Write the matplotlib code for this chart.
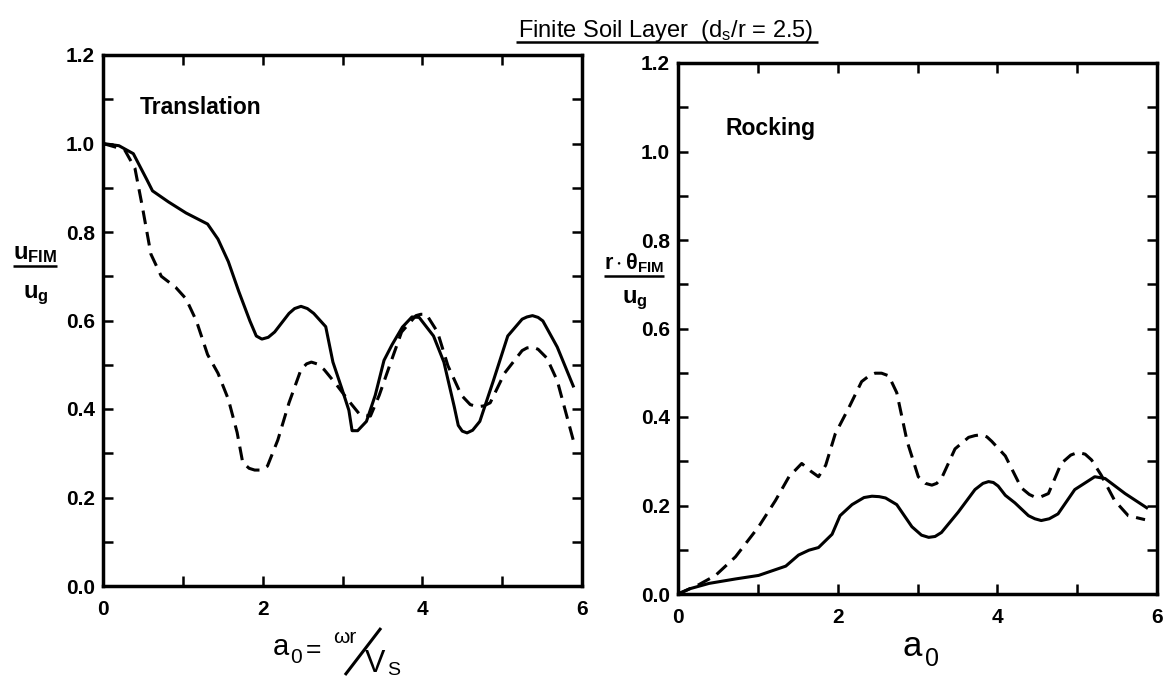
import matplotlib
matplotlib.use('Agg')
import matplotlib.pyplot as plt
from matplotlib.lines import Line2D
from matplotlib.ticker import MultipleLocator

# ---------------- data ----------------
trans_solid_a0 = [0.00, 0.20, 0.38, 0.55, 0.62, 0.82, 1.04, 1.31, 1.44, 1.57, 1.70, 1.84, 1.92,
                  1.99, 2.07, 2.15, 2.33, 2.40, 2.48, 2.56, 2.64, 2.79, 2.88, 2.99, 3.08, 3.12,
                  3.19, 3.30, 3.41, 3.52, 3.62, 3.75, 3.87, 3.96, 4.14, 4.27, 4.40, 4.45, 4.50,
                  4.56, 4.63, 4.72, 4.89, 5.07, 5.25, 5.31, 5.38, 5.45, 5.51, 5.69, 5.89]
trans_solid = [1.00, 0.995, 0.977, 0.918, 0.893, 0.868, 0.843, 0.818, 0.784, 0.733, 0.666, 0.599,
               0.565, 0.558, 0.562, 0.574, 0.616, 0.627, 0.632, 0.627, 0.616, 0.586, 0.506, 0.447,
               0.397, 0.351, 0.351, 0.372, 0.431, 0.510, 0.545, 0.585, 0.608, 0.607, 0.565, 0.506,
               0.405, 0.363, 0.350, 0.346, 0.352, 0.372, 0.464, 0.565, 0.603, 0.608, 0.611, 0.607,
               0.599, 0.540, 0.452]

trans_dash_a0 = [0.00, 0.27, 0.40, 0.49, 0.60, 0.73, 0.91, 1.04, 1.17, 1.31, 1.44, 1.57, 1.68,
                 1.75, 1.83, 1.90, 1.98, 2.06, 2.19, 2.33, 2.48, 2.55, 2.61, 2.68, 2.77, 2.92,
                 3.08, 3.21, 3.35, 3.46, 3.59, 3.74, 3.92, 3.98, 4.05, 4.19, 4.32, 4.49, 4.60,
                 4.69, 4.77, 4.85, 5.03, 5.25, 5.31, 5.38, 5.45, 5.56, 5.69, 5.89]
trans_dash = [1.00, 0.986, 0.944, 0.860, 0.750, 0.700, 0.675, 0.649, 0.599, 0.523, 0.481, 0.422,
              0.347, 0.279, 0.266, 0.262, 0.262, 0.271, 0.330, 0.414, 0.489, 0.502, 0.506, 0.502,
              0.489, 0.456, 0.418, 0.389, 0.384, 0.431, 0.498, 0.574, 0.611, 0.614, 0.614, 0.574,
              0.498, 0.431, 0.410, 0.405, 0.407, 0.414, 0.481, 0.532, 0.538, 0.540, 0.535, 0.515,
              0.464, 0.330]

rock_solid_a0 = [0.00, 0.15, 0.39, 0.72, 1.01, 1.35, 1.51, 1.64, 1.76, 1.93, 2.03, 2.18, 2.33,
                 2.43, 2.52, 2.60, 2.74, 2.93, 3.05, 3.14, 3.22, 3.30, 3.51, 3.72, 3.82, 3.89,
                 3.95, 4.01, 4.10, 4.22, 4.39, 4.47, 4.55, 4.65, 4.76, 4.97, 5.22, 5.35, 5.60,
                 5.87]
rock_solid = [0.0, 0.012, 0.024, 0.034, 0.042, 0.063, 0.088, 0.099, 0.105, 0.135, 0.177, 0.202,
              0.218, 0.221, 0.220, 0.217, 0.202, 0.152, 0.133, 0.128, 0.130, 0.139, 0.185, 0.236,
              0.250, 0.254, 0.252, 0.244, 0.223, 0.206, 0.177, 0.170, 0.166, 0.170, 0.181, 0.236,
              0.265, 0.261, 0.227, 0.195]

rock_dash_a0 = [0.00, 0.26, 0.47, 0.72, 1.01, 1.22, 1.39, 1.55, 1.66, 1.76, 1.85, 1.97, 2.14,
                2.30, 2.40, 2.47, 2.55, 2.64, 2.74, 2.87, 3.01, 3.10, 3.18, 3.24, 3.30, 3.47,
                3.64, 3.72, 3.80, 3.87, 3.93, 4.10, 4.30, 4.40, 4.47, 4.55, 4.64, 4.80, 4.92,
                5.01, 5.10, 5.18, 5.30, 5.47, 5.64, 5.85]
rock_dash = [0.0, 0.021, 0.042, 0.084, 0.152, 0.211, 0.265, 0.295, 0.278, 0.265, 0.291, 0.362,
             0.421, 0.480, 0.494, 0.499, 0.499, 0.493, 0.455, 0.345, 0.265, 0.250, 0.246, 0.250,
             0.261, 0.328, 0.354, 0.358, 0.360, 0.355, 0.345, 0.312, 0.240, 0.225, 0.219, 0.220,
             0.227, 0.295, 0.314, 0.320, 0.316, 0.303, 0.269, 0.211, 0.177, 0.168]

x_ticks = [0, 2, 4, 6]
x_tick_labels = ['0', '2', '4', '6']
y_ticks = [0.0, 0.2, 0.4, 0.6, 0.8, 1.0, 1.2]
y_tick_labels = ['0.0', '0.2', '0.4', '0.6', '0.8', '1.0', '1.2']

title_text = r'Finite Soil Layer  (d$_\mathregular{s}$/r = 2.5)'
panel_left = 'Translation'
panel_right = 'Rocking'

# ---------------- styling ----------------
plt.rcParams['font.family'] = ['Liberation Sans', 'DejaVu Sans']
plt.rcParams['mathtext.fontset'] = 'custom'
plt.rcParams['mathtext.rm'] = 'Liberation Sans'
plt.rcParams['mathtext.it'] = 'Liberation Sans:italic'
plt.rcParams['mathtext.bf'] = 'Liberation Sans:bold'

W, H = 1170, 679
fig = plt.figure(figsize=(W / 100, H / 100), dpi=100)


def ax_rect(x0, y0, x1, y1):
    return [x0 / W, 1 - y1 / H, (x1 - x0) / W, (y1 - y0) / H]


def ptxt(px, py, s, **kw):
    kw.setdefault('ha', 'left')
    kw.setdefault('va', 'baseline')
    return fig.text(px / W, 1 - py / H, s, **kw)


def pline(x0, y0, x1, y1, lw=2.0):
    fig.add_artist(Line2D([x0 / W, x1 / W], [1 - y0 / H, 1 - y1 / H],
                          transform=fig.transFigure, color='black', lw=lw,
                          solid_capstyle='butt'))


axL = fig.add_axes(ax_rect(103, 55, 582, 586))
axR = fig.add_axes(ax_rect(678, 63, 1157, 594))

dash = (0, (4.5, 2.6))
lw = 2.2

for ax, xs, ys, xd, yd in ((axL, trans_solid_a0, trans_solid, trans_dash_a0, trans_dash),
                           (axR, rock_solid_a0, rock_solid, rock_dash_a0, rock_dash)):
    ax.plot(xs, ys, color='black', lw=lw, solid_joinstyle='round')
    ax.plot(xd, yd, color='black', lw=lw, linestyle=dash, dash_joinstyle='round')

for ax in (axL, axR):
    ax.set_xlim(0, 6)
    ax.set_ylim(0, 1.2)
    ax.set_xticks(x_ticks, x_tick_labels, fontsize=15, fontweight='bold')
    ax.set_yticks(y_ticks, y_tick_labels, fontsize=15, fontweight='bold')
    ax.xaxis.set_minor_locator(MultipleLocator(1))
    ax.yaxis.set_minor_locator(MultipleLocator(0.1))
    ax.tick_params(which='both', direction='in', top=True, right=True,
                   length=7.5, width=1.8)
    ax.tick_params(axis='x', pad=10)
    ax.tick_params(axis='y', pad=6)
    for sp in ax.spines.values():
        sp.set_linewidth(2.5)

axL.text(0.077, 0.888, panel_left, transform=axL.transAxes, fontsize=16.5,
         fontweight='bold', ha='left', va='baseline')
axR.text(0.099, 0.865, panel_right, transform=axR.transAxes, fontsize=16.5,
         fontweight='bold', ha='left', va='baseline')

# title
t = ptxt(666, 37, title_text, ha='center', fontsize=17)

# y labels (fractions)
numL = ptxt(35, 259, r'$\mathregular{u_{FIM}}$', ha='center', fontsize=17, fontweight='bold')
denL = ptxt(36, 298, r'$\mathregular{u_g}$', ha='center', fontsize=17, fontweight='bold')
numR = ptxt(634, 269, r'$\mathregular{r \cdot θ_{FIM}}$', ha='center', fontsize=15.5, fontweight='bold')
denR = ptxt(635, 303, r'$\mathregular{u_g}$', ha='center', fontsize=17, fontweight='bold')

# x label left: a0 = (omega r) / Vs
ptxt(273, 655, 'a', fontsize=21)
ptxt(290, 663, '0', fontsize=15)
ptxt(306, 657, '=', fontsize=19)
ptxt(333, 643, 'ωr', fontsize=15)
pline(345, 675, 381, 628, lw=2.2)
ptxt(365, 672, 'V', fontsize=22)
ptxt(387, 675, 'S', fontsize=14)

# x label right
ptxt(903, 656, 'a', fontsize=25)
ptxt(925, 666, '0', fontsize=18)

# underlines computed from rendered text extents
fig.canvas.draw()
r = fig.canvas.get_renderer()
bb = t.get_window_extent(r)
pline(bb.x0 - 2, 42, bb.x1 + 4, 42, lw=1.8)
bb = numL.get_window_extent(r)
pline(bb.x0, 266, bb.x1, 266, lw=1.8)
bb = numR.get_window_extent(r)
pline(bb.x0, 276, bb.x1, 276, lw=1.8)

fig.savefig('out.png', dpi=100)
